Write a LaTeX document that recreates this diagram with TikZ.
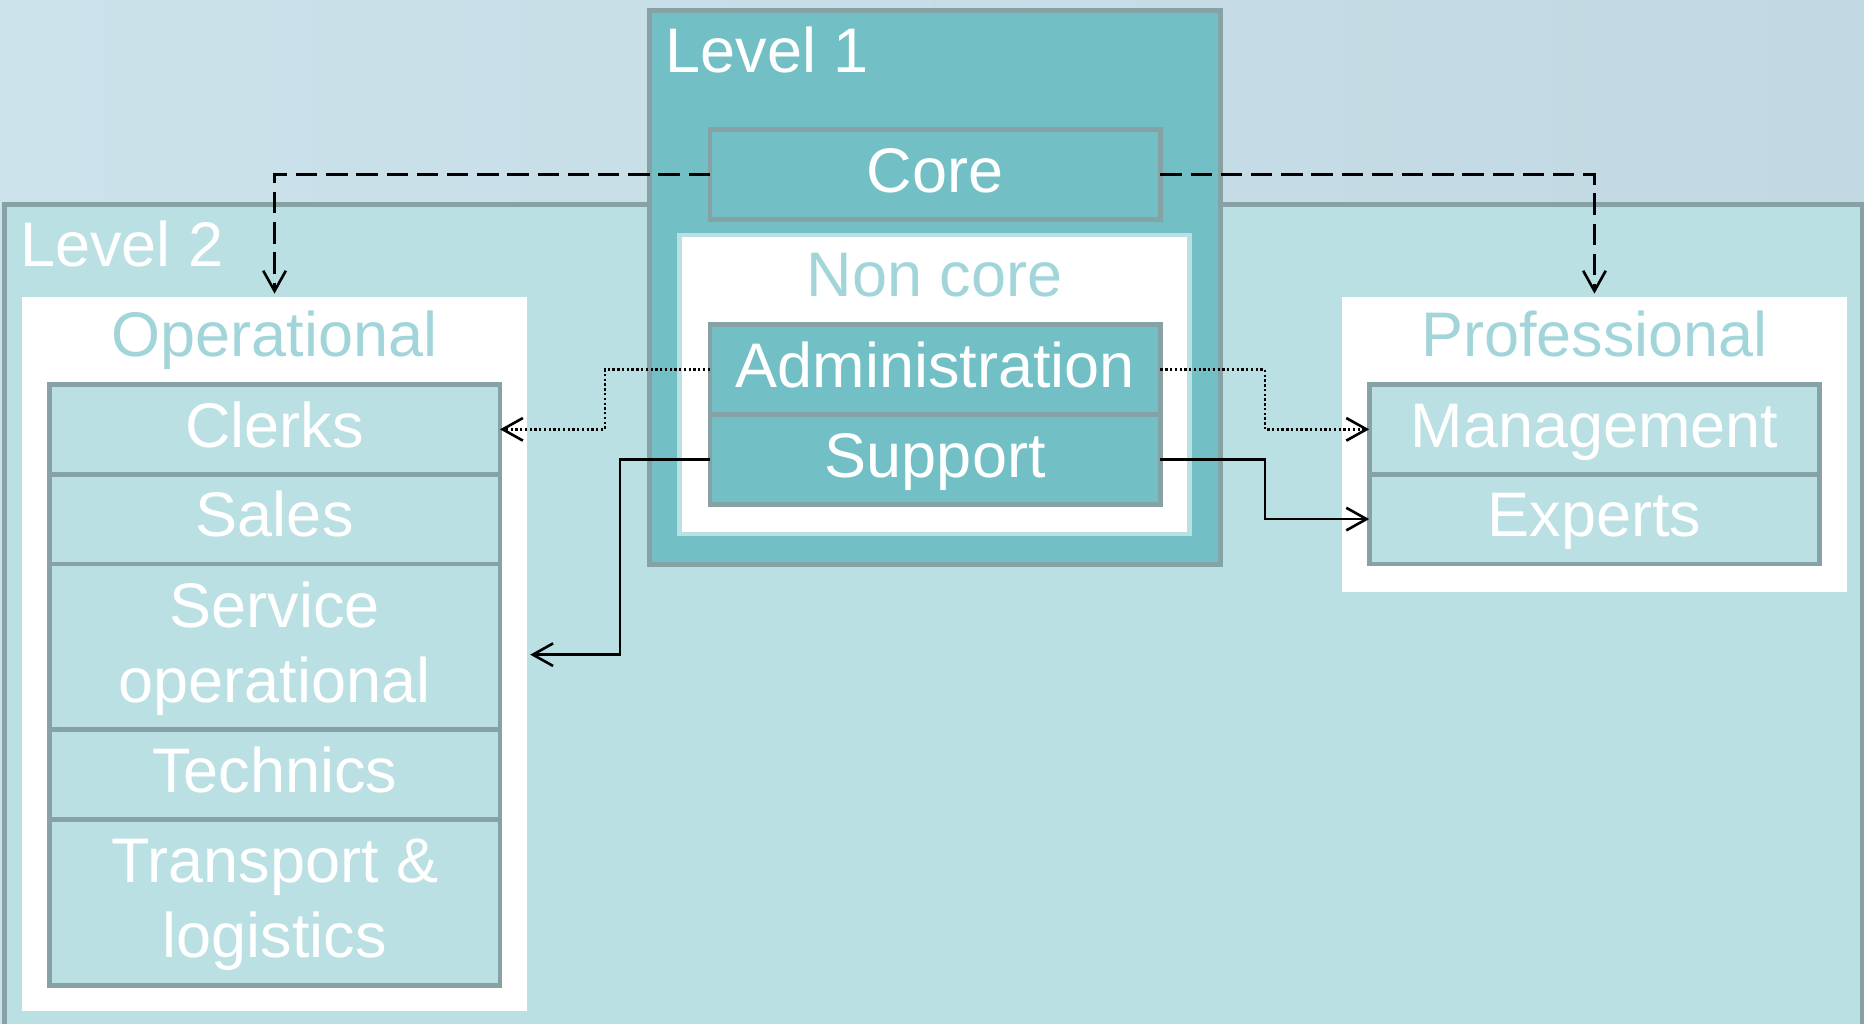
\documentclass[tikz,border=0pt]{standalone}
\usepackage{fontspec}
\setmainfont{Liberation Sans}
\usetikzlibrary{arrows.meta,calc,fit}

\definecolor{framegray}{HTML}{87A2A5}
\definecolor{tealdark}{HTML}{72BFC5}
\definecolor{teallight}{HTML}{BAE0E3}
\definecolor{tealtext}{HTML}{A2D5D9}
\definecolor{skyleft}{HTML}{CCE2EB}
\definecolor{skyright}{HTML}{C2D8E2}

\newcommand\boxfont{\fontsize{26.5}{31.5}\selectfont}
\newcommand\linestrut{\vrule height 23.25pt depth 8.25pt width 0pt}

\begin{document}
\begin{tikzpicture}[x=0.5pt,y=-0.5pt,
  edged/.style={draw=framegray, line width=2pt, inner sep=0pt, outer sep=0pt},
  rowbox/.style={edged, fill=#1, minimum width=189.5pt, minimum height=37.75pt,
    text=white, font=\boxfont, align=center},
  rowbox/.default=teallight,
  tallrow/.style={rowbox, minimum height=69.75pt},
  panel/.style={inner sep=0pt, outer sep=0pt, fill=white},
  heading/.style={inner sep=0pt, outer sep=0pt, font=\boxfont},
  conn/.style={line width=1.1pt, -{Straight Barb[length=8.5pt,width=9.5pt]}},
  dashedconn/.style={conn, dash pattern=on 9pt off 3.7pt, shorten >=1.5pt},
  dottedconn/.style={conn, dash pattern=on 1pt off 1pt},
]
\useasboundingbox (0,0) rectangle (1568,861);
\clip (0,0) rectangle (1568,861);

% sky background
\shade[left color=skyleft, right color=skyright] (0,0) rectangle (1568,861);

% Level 2 area
\node[edged, fill=teallight, fit={(3.8,171.8) (1567,900)}] (level2) {};
\node[heading, text=white, anchor=base west] (l2title) at (17,224.3) {Level 2};

% operational group
\node[panel, fit={(18.7,250) (443.2,850.4)}] (opbox) {};
\node[heading, text=tealtext, anchor=base] (optitle) at (230.9,300.3) {Operational};
\node[rowbox] (clerks) at (231.1,361.15) {\linestrut Clerks};
\node[rowbox] (sales) at (231.1,436.65) {\linestrut Sales};
\node[tallrow] (service) at (231.1,544.15) {\linestrut Service\\\linestrut operational};
\node[rowbox] (technics) at (231.1,651.65) {\linestrut Technics};
\node[tallrow] (transport) at (231.1,759.15) {\linestrut Transport \&\\\linestrut logistics};

% professional group
\node[panel, fit={(1129,250) (1553.5,497.7)}] (profbox) {};
\node[heading, text=tealtext, anchor=base] (proftitle) at (1341.2,300.3) {Professional};
\node[rowbox] (mgmt) at (1341.25,361.15) {\linestrut Management};
\node[rowbox] (experts) at (1341.25,436.65) {\linestrut Experts};

% Level 1 block
\node[edged, fill=tealdark, fit={(546.4,8.9) (1026.4,474.6)}] (level1) {};
\node[heading, text=white, anchor=base west] (l1title) at (560,60.7) {Level 1};
\node[rowbox=tealdark] (core) at (786.7,146.8) {\linestrut Core};
\node[edged, draw=teallight, fill=white, fit={(571.7,197.6) (1000.7,449.2)}] (noncore) {};
\node[heading, text=tealtext, anchor=base] (nctitle) at (786.2,249) {Non core};
\node[rowbox=tealdark] (admin) at (786.7,310.9) {\linestrut Administration};
\node[rowbox=tealdark] (support) at (786.7,386.4) {\linestrut Support};

% free end of the support link on the left
\coordinate (svcin) at (446,550.7);

% connectors
\draw[dashedconn] (core.west) -| (opbox.north);
\draw[dashedconn] (core.east) -| (profbox.north);
\draw[dottedconn] (admin.west) -| ($(admin.west)!.5!(clerks.east)$) |- (clerks.east);
\draw[dottedconn] (admin.east) -| ($(admin.east)!.5!(mgmt.west)$) |- (mgmt.west);
\draw[conn] (support.west) -| ($(support.west)!.5!(svcin)$) |- (svcin);
\draw[conn] (support.east) -| ($(support.east)!.5!(experts.west)$) |- (experts.west);
\end{tikzpicture}
\end{document}
